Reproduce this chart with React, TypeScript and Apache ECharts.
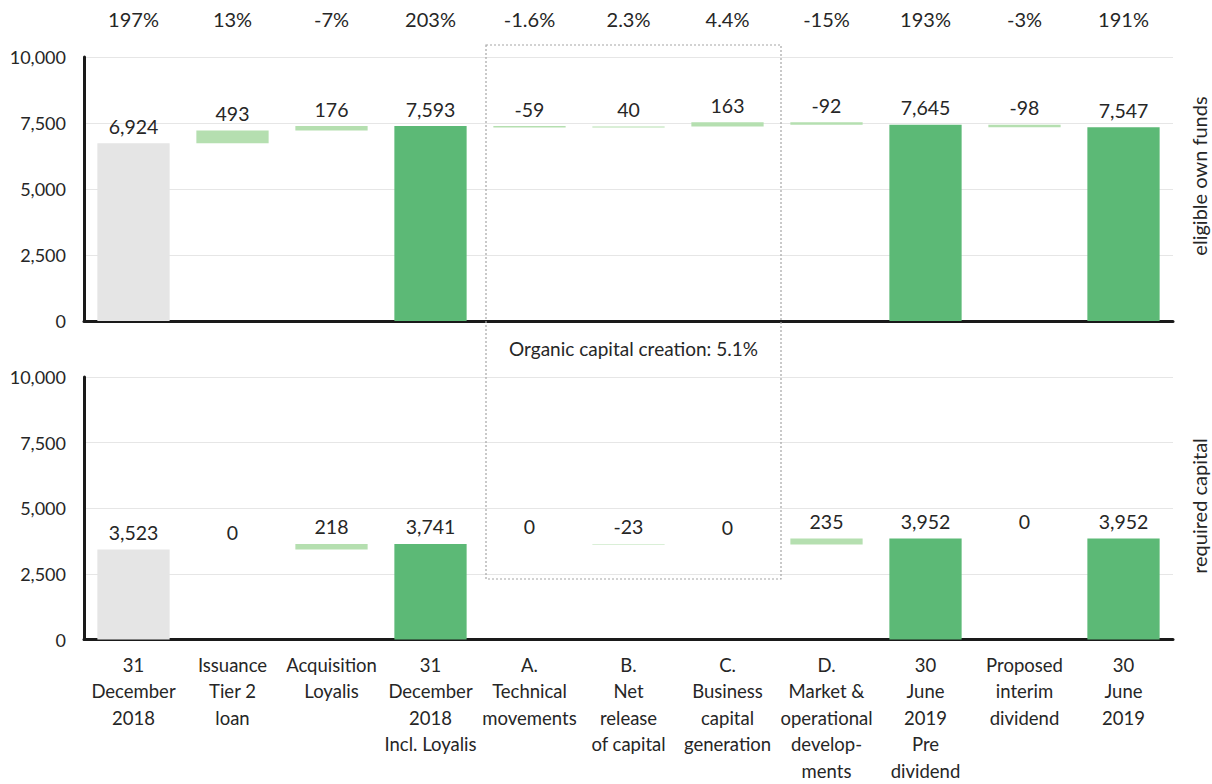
import React, { useEffect, useRef } from "react";
import * as echarts from "echarts";

const categories = [
  "31\nDecember\n2018",
  "Issuance\nTier 2\nloan",
  "Acquisition\nLoyalis",
  "31\nDecember\n2018\nIncl. Loyalis",
  "A.\nTechnical\nmovements",
  "B.\nNet\nrelease\nof capital",
  "C.\nBusiness\ncapital\ngeneration",
  "D.\nMarket &\noperational\ndevelop-\nments",
  "30\nJune\n2019\nPre\ndividend",
  "Proposed\ninterim\ndividend",
  "30\nJune\n2019",
];

const solvencyRatios = ["197%", "13%", "-7%", "203%", "-1.6%", "2.3%", "4.4%", "-15%", "193%", "-3%", "191%"];

// "start" and "total" are levels, "delta" are changes
const barKinds = ["start", "delta", "delta", "total", "delta", "delta", "delta", "delta", "total", "delta", "total"];

const eligibleOwnFunds = [6924, 493, 176, 7593, -59, 40, 163, -92, 7645, -98, 7547];
const requiredCapital = [3523, 0, 218, 3741, 0, -23, 0, 235, 3952, 0, 3952];

const yTicks = [0, 2500, 5000, 7500, 10000];
const organicNote = "Organic capital creation: 5.1%";
const panelNames = ["eligible own funds", "required capital"];

const FONT = "Lato, 'Noto Sans', sans-serif";
const TEXT = "#262626";
const COLORS: Record<string, string> = {
  start: "#e5e5e5",
  total: "#5cb976",
  delta: "#b5dfb0",
};

function fmt(v: number) {
  const s = Math.abs(v).toString().replace(/\B(?=(\d{3})+(?!\d))/g, ",");
  return v < 0 ? "-" + s : s;
}

function waterfall(values: number[]) {
  let running = 0;
  const base: number[] = [];
  const bars: any[] = [];
  values.forEach((v, i) => {
    const k = barKinds[i];
    if (k === "start" || k === "total") {
      base.push(0);
      bars.push({ value: v, itemStyle: { color: COLORS[k] } });
      running = v;
    } else {
      const next = running + v;
      base.push(Math.min(running, next));
      bars.push({ value: Math.abs(v), itemStyle: { color: COLORS.delta } });
      running = next;
    }
  });
  return { base, bars };
}

export default function App() {
  const ref = useRef<HTMLDivElement>(null);
  useEffect(() => {
    document.body.style.margin = "0";
    const chart = echarts.init(ref.current!, null, { renderer: "svg" });
    const top = waterfall(eligibleOwnFunds);
    const bottom = waterfall(requiredCapital);

    const gridTop = [57, 377];
    const gridH = 264;

    const visibleY = [0, 1].map((i) => ({
      type: "value",
      gridIndex: i,
      min: yTicks[0],
      max: yTicks[yTicks.length - 1],
      interval: 2500,
      axisLine: { show: true, lineStyle: { color: "#1a1a1a", width: 3 } },
      axisTick: { show: false },
      axisLabel: { color: TEXT, fontSize: 18, fontFamily: FONT, margin: 18 },
      splitLine: { show: true, lineStyle: { color: "#e6e6e6", width: 1 } },
    }));
    // value scale used by the bars (the original's bars sit on a slightly taller scale)
    const barY = [0, 1].map((i) => ({
      type: "value",
      gridIndex: i,
      min: 0,
      max: 10280,
      show: false,
      splitLine: { show: false },
    }));

    const xAxis: any[] = [
      {
        type: "category",
        gridIndex: 0,
        data: categories,
        axisLine: { show: true, onZero: false, lineStyle: { color: "#1a1a1a", width: 3 } },
        axisTick: { show: false },
        axisLabel: { show: false },
      },
      {
        type: "category",
        gridIndex: 1,
        data: categories,
        axisLine: { show: true, onZero: false, lineStyle: { color: "#1a1a1a", width: 3 } },
        axisTick: { show: false },
        axisLabel: {
          color: TEXT,
          fontSize: 18.5,
          fontFamily: FONT,
          lineHeight: 26.5,
          margin: 12,
          interval: 0,
        },
      },
      {
        type: "category",
        gridIndex: 0,
        position: "top",
        data: solvencyRatios,
        axisLine: { show: false },
        axisTick: { show: false },
        axisLabel: { color: TEXT, fontSize: 20, fontFamily: FONT, margin: 28, interval: 0 },
      },
    ];

    const mkSeries = (wf: any, values: number[], gi: number) => [
      {
        type: "bar",
        xAxisIndex: gi,
        yAxisIndex: gi + 2,
        stack: "wf" + gi,
        data: wf.base,
        itemStyle: { color: "transparent" },
        silent: true,
        barWidth: "73%",
      },
      {
        type: "bar",
        xAxisIndex: gi,
        yAxisIndex: gi + 2,
        stack: "wf" + gi,
        data: wf.bars,
        barWidth: "73%",
        label: {
          show: true,
          position: "top",
          distance: 7,
          color: TEXT,
          fontSize: 19.5,
          fontFamily: FONT,
          formatter: (p: any) => fmt(values[p.dataIndex]),
        },
      },
    ];

    chart.setOption({
      animation: false,
      textStyle: { fontFamily: FONT },
      grid: gridTop.map((t) => ({ left: 84, right: 39, top: t, height: gridH })),
      xAxis,
      yAxis: [...visibleY, ...barY],
      series: [...mkSeries(top, eligibleOwnFunds, 0), ...mkSeries(bottom, requiredCapital, 1)],
    });

    const band = 99;
    const xA = chart.convertToPixel({ xAxisIndex: 0 }, categories[4]) as number;
    const xC = chart.convertToPixel({ xAxisIndex: 0 }, categories[6]) as number;
    const boxLeft = xA - band / 2 + 6;
    const boxRight = xC + band / 2 + 4;

    chart.setOption({
      graphic: [
        {
          type: "rect",
          shape: { x: boxLeft, y: 45, width: boxRight - boxLeft, height: 534 },
          style: { fill: "none", stroke: "#a6a6a6", lineWidth: 1.2, lineDash: [2, 2] },
          z: 10,
        },
        {
          type: "text",
          x: (boxLeft + boxRight) / 2,
          y: 348,
          style: {
            text: organicNote,
            fill: TEXT,
            font: `19px ${FONT}`,
            align: "center",
            verticalAlign: "middle",
          },
        },
        {
          type: "text",
          x: 1199,
          y: 176,
          rotation: Math.PI / 2,
          style: {
            text: panelNames[0],
            fill: TEXT,
            font: `20px ${FONT}`,
            align: "center",
            verticalAlign: "middle",
          },
        },
        {
          type: "text",
          x: 1199,
          y: 506,
          rotation: Math.PI / 2,
          style: {
            text: panelNames[1],
            fill: TEXT,
            font: `20px ${FONT}`,
            align: "center",
            verticalAlign: "middle",
          },
        },
      ],
    });

    return () => chart.dispose();
  }, []);
  return <div ref={ref} style={{ width: 1212, height: 784 }} />;
}
